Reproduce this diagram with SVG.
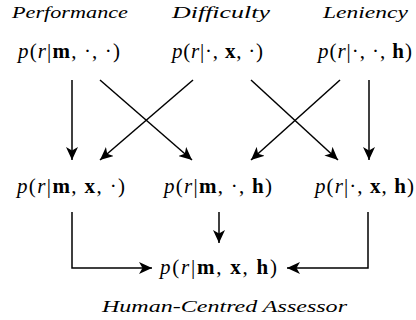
<svg xmlns="http://www.w3.org/2000/svg" width="416" height="320" viewBox="0 0 416 320">
<style>
text{font-family:"Liberation Serif","DejaVu Serif",serif;fill:#000}
.lbl{font-size:17px;font-style:italic}
.f{font-size:21px}
.i{font-style:italic}
.b{font-weight:bold}
.c{fill:none;stroke:#000;stroke-width:1.5}
</style>
<defs>
<marker id="ah" markerUnits="userSpaceOnUse" markerWidth="14" markerHeight="12" viewBox="0 0 14 12" refX="13" refY="6" orient="auto">
<path d="M0,0 L13,6 L0,12 L3.5,6 Z" fill="#000"/>
</marker>
</defs>
<rect width="416" height="320" fill="#fff"/>
<g id="perf">
<text class="lbl" x="12" y="18" textLength="116" lengthAdjust="spacingAndGlyphs">Performance</text>
<text class="f" x="18" y="58" textLength="102"><tspan class="i">p</tspan>(<tspan class="i">r</tspan>|<tspan class="b">m</tspan>, ·, ·)</text>
</g>
<g id="diff">
<text class="lbl" x="172" y="18" textLength="98" lengthAdjust="spacingAndGlyphs">Difficulty</text>
<text class="f" x="172" y="58" textLength="91"><tspan class="i">p</tspan>(<tspan class="i">r</tspan>|·, <tspan class="b">x</tspan>, ·)</text>
</g>
<g id="len">
<text class="lbl" x="323" y="18" textLength="85" lengthAdjust="spacingAndGlyphs">Leniency</text>
<text class="f" x="318" y="58" textLength="94"><tspan class="i">p</tspan>(<tspan class="i">r</tspan>|·, ·, <tspan class="b">h</tspan>)</text>
</g>
<g id="mx">
<text class="f" x="17" y="193" textLength="108"><tspan class="i">p</tspan>(<tspan class="i">r</tspan>|<tspan class="b">m</tspan>, <tspan class="b">x</tspan>, ·)</text>
</g>
<g id="mh">
<text class="f" x="164" y="193" textLength="108"><tspan class="i">p</tspan>(<tspan class="i">r</tspan>|<tspan class="b">m</tspan>, ·, <tspan class="b">h</tspan>)</text>
</g>
<g id="xh">
<text class="f" x="315" y="193" textLength="99"><tspan class="i">p</tspan>(<tspan class="i">r</tspan>|·, <tspan class="b">x</tspan>, <tspan class="b">h</tspan>)</text>
</g>
<g id="mxh">
<text class="f" x="160" y="274" textLength="117"><tspan class="i">p</tspan>(<tspan class="i">r</tspan>|<tspan class="b">m</tspan>, <tspan class="b">x</tspan>, <tspan class="b">h</tspan>)</text>
<text class="lbl" x="102" y="312" textLength="245" lengthAdjust="spacingAndGlyphs">Human-Centred Assessor</text>
</g>
<g id="connectors">
<line class="c" x1="72" y1="80" x2="72" y2="160" marker-end="url(#ah)"/>
<line class="c" x1="100" y1="80" x2="192" y2="160" marker-end="url(#ah)"/>
<line class="c" x1="193" y1="80" x2="100" y2="160" marker-end="url(#ah)"/>
<line class="c" x1="251" y1="80" x2="338" y2="160" marker-end="url(#ah)"/>
<line class="c" x1="340" y1="80" x2="251" y2="160" marker-end="url(#ah)"/>
<line class="c" x1="369" y1="80" x2="369" y2="160" marker-end="url(#ah)"/>
<path class="c" d="M72,212 V268 H152" marker-end="url(#ah)"/>
<line class="c" x1="219" y1="212" x2="219" y2="243" marker-end="url(#ah)"/>
<path class="c" d="M368,212 V268 H287" marker-end="url(#ah)"/>
</g>
</svg>
